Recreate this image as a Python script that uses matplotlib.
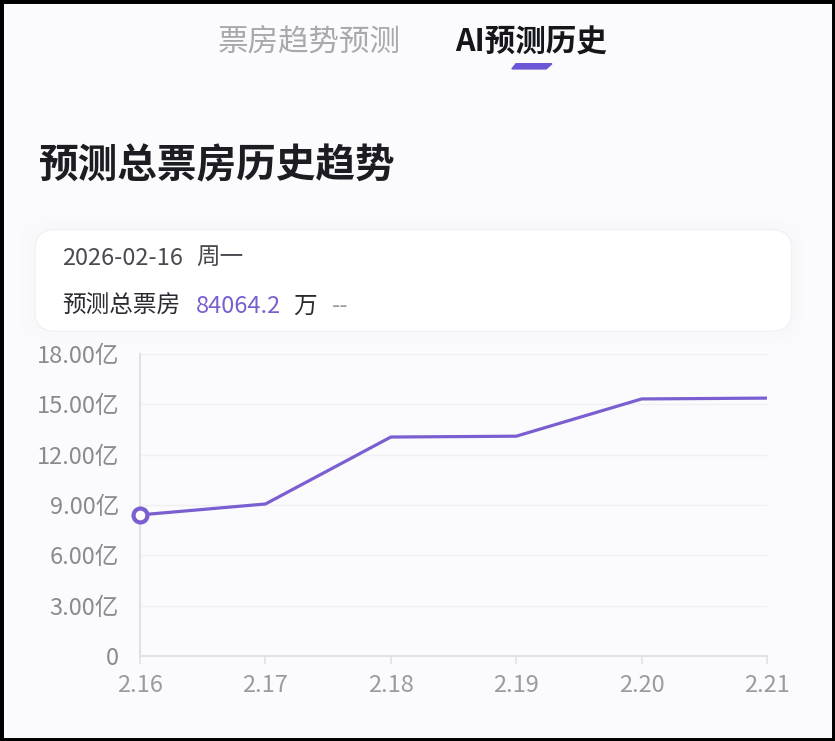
import matplotlib.pyplot as plt
import matplotlib.patches as patches
from matplotlib.ticker import FuncFormatter

plt.rcParams['font.family'] = ['Noto Sans CJK SC', 'DejaVu Sans']

dates = ['2.16', '2.17', '2.18', '2.19', '2.20', '2.21']
box_office = [8.41, 9.06, 13.05, 13.10, 15.32, 15.37]  # 亿
y_ticks = [0, 3, 6, 9, 12, 15, 18]

purple = '#7b5fd0'
grey_txt = '#8a8a8f'

fig = plt.figure(figsize=(8.35, 7.41), dpi=100)
fig.patch.set_facecolor('#fbfbfd')

# black frame around the screenshot
fig.add_artist(patches.Rectangle((0, 0), 1, 1, transform=fig.transFigure,
                                 fill=False, edgecolor='black', linewidth=5))

# tabs
fig.text(0.37, 0.943, '票房趋势预测', fontsize=22, color='#a9a9ad',
         ha='center', va='center')
fig.text(0.636, 0.943, 'AI预测历史', fontsize=22, color='#15161c',
         ha='center', va='center', fontweight='bold')
fig.add_artist(patches.Polygon([(0.618, 0.914), (0.661, 0.914),
                                (0.654, 0.907), (0.613, 0.907)],
                               closed=True, transform=fig.transFigure,
                               color='#6c55d6'))

# section title
fig.text(0.045, 0.776, '预测总票房历史趋势', fontsize=28.5, color='#1c1c22',
         ha='left', va='center', fontweight='bold')

# tooltip card (soft shadow + white card)
for i, a in enumerate([0.025, 0.035, 0.05]):
    d = 0.006 * (3 - i)
    fig.add_artist(patches.FancyBboxPatch(
        (0.042 - d, 0.553 - d), 0.906 + 2 * d, 0.137 + 2 * d,
        boxstyle='round,pad=0,rounding_size=0.03',
        transform=fig.transFigure, facecolor='#e6e8f2', edgecolor='none',
        alpha=a, zorder=2))
card = patches.FancyBboxPatch((0.042, 0.553), 0.906, 0.137,
                              boxstyle='round,pad=0,rounding_size=0.025',
                              transform=fig.transFigure, facecolor='white',
                              edgecolor='#f1f1f5', linewidth=1, zorder=3)
fig.add_artist(card)
fig.text(0.074, 0.651, '2026-02-16', fontsize=17, color='#4a4a50',
         ha='left', va='center', zorder=4)
fig.text(0.235, 0.651, '周一', fontsize=17, color='#4a4a50',
         ha='left', va='center', zorder=4)
fig.text(0.074, 0.587, '预测总票房', fontsize=17, color='#2a2a30',
         ha='left', va='center', zorder=4)
fig.text(0.235, 0.587, '84064.2', fontsize=17, color=purple,
         ha='left', va='center', zorder=4)
fig.text(0.351, 0.587, '万', fontsize=17, color='#2a2a30',
         ha='left', va='center', zorder=4)
fig.text(0.397, 0.587, '--', fontsize=17, color='#9a9aa0',
         ha='left', va='center', zorder=4)

# chart
ax = fig.add_axes([0.1677, 0.1147, 0.7509, 0.4076])
ax.set_facecolor('none')
x = list(range(len(dates)))
ax.plot(x, box_office, color=purple, linewidth=2.3, solid_joinstyle='round')
ax.plot(x[0], box_office[0], 'o', markersize=10, markerfacecolor='white',
        markeredgecolor=purple, markeredgewidth=3, clip_on=False, zorder=5)

ax.set_xlim(0, len(dates) - 1)
ax.set_ylim(0, 18)
ax.set_xticks(x)
ax.set_xticklabels(dates)
ax.set_yticks(y_ticks)
ax.yaxis.set_major_formatter(FuncFormatter(
    lambda v, p: '0' if v == 0 else f'{v:.2f}亿'))

for s in ['top', 'right']:
    ax.spines[s].set_visible(False)
ax.spines['left'].set_color('#e2e2e6')
ax.spines['bottom'].set_color('#e2e2e6')
ax.spines['left'].set_linewidth(1.5)
ax.spines['bottom'].set_linewidth(1.5)
ax.grid(axis='y', color='#f0f0f3', linewidth=1)
ax.tick_params(axis='y', length=0, pad=15, labelsize=17, labelcolor=grey_txt)
ax.tick_params(axis='x', length=6, color='#e2e2e6', width=1.2, pad=7,
               labelsize=17, labelcolor='#9a9aa0')

fig.savefig('out.png', dpi=100, facecolor=fig.get_facecolor())
